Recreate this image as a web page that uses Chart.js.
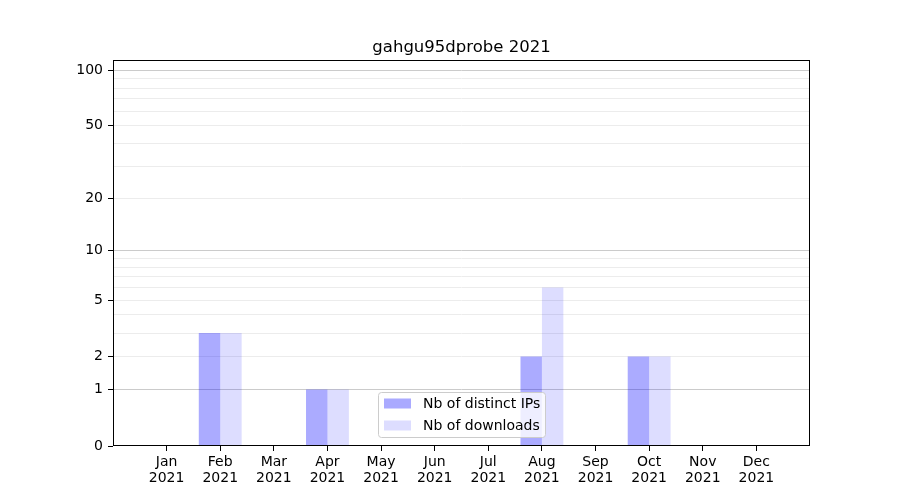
<!DOCTYPE html>
<html>
<head>
<meta charset="utf-8">
<script src="https://cdn.jsdelivr.net/npm/chart.js@4"></script>
<style>
html,body{margin:0;padding:0;background:#fff;}
#wrap{width:900px;height:500px;}
</style>
</head>
<body>
<div id="wrap"><canvas id="c" width="900" height="500"></canvas></div>
<script>
const months = ['Jan','Feb','Mar','Apr','May','Jun','Jul','Aug','Sep','Oct','Nov','Dec'];
const yearLabel = '2021';
const ips = [0,3,0,1,0,0,0,2,0,2,0,0];
const downloads = [0,3,0,1,0,0,0,6,0,2,0,0];
const yTickLabels = [0,1,2,5,10,20,50,100];
const yMajorGrid = [1,10,100];
const yMinorGrid = [3,4,6,7,8,9,30,40,60,70,80,90];
const yTop = 113.3;
const titleText = 'gahgu95dprobe 2021';
const seriesNames = ['Nb of distinct IPs','Nb of downloads'];
const colors = ['rgba(0,0,255,0.33)','rgba(0,0,255,0.135)'];
const legendSwatch = ['#aaaaff','#ddddff'];

const tf = v => Math.log10(v + 1);
const inv = t => Math.round(Math.pow(10, t) - 1);

const tickKinds = {};
yTickLabels.forEach(v => tickKinds[v] = 'label');
yMinorGrid.forEach(v => tickKinds[v] = 'minor');
const allY = Object.keys(tickKinds).map(Number).sort((a,b)=>a-b);

const FONT = "'DejaVu Sans', sans-serif";

const frame = {
  id: 'frame',
  afterDatasetsDraw(chart) {
    const {ctx, chartArea: a} = chart;
    ctx.save();
    ctx.strokeStyle = '#000';
    ctx.lineWidth = 1;
    const l = Math.round(a.left) + 0.5, t = Math.round(a.top) + 0.5;
    const r = Math.round(a.right) - 0.5, b = Math.round(a.bottom) - 0.5;
    ctx.strokeRect(l, t, r - l, b - t);
    ctx.restore();
  },
  afterDraw(chart) {
    const ctx = chart.ctx;
    const x = 378.5, y = 392.5, w = 167, h = 45, rad = 3;
    ctx.save();
    ctx.beginPath();
    ctx.roundRect(x, y, w, h, rad);
    ctx.fillStyle = 'rgba(255,255,255,0.8)';
    ctx.fill();
    ctx.strokeStyle = '#cccccc';
    ctx.lineWidth = 1;
    ctx.stroke();
    ctx.font = '14px ' + FONT;
    ctx.textBaseline = 'middle';
    ctx.fillStyle = '#000';
    seriesNames.forEach((name, i) => {
      const cy = 403.5 + i * 22;
      ctx.fillStyle = legendSwatch[i];
      ctx.fillRect(384, cy - 5, 27, 10);
      ctx.fillStyle = '#000';
      ctx.fillText(name, 423, cy + 0.5);
    });
    ctx.restore();
  }
};

new Chart(document.getElementById('c'), {
  type: 'bar',
  data: {
    datasets: [
      { label: seriesNames[0], data: ips.map((v,i)=>({x:i, y:tf(v)})), backgroundColor: colors[0], borderWidth: 0 },
      { label: seriesNames[1], data: downloads.map((v,i)=>({x:i, y:tf(v)})), backgroundColor: colors[1], borderWidth: 0 }
    ]
  },
  options: {
    responsive: false,
    animation: false,
    devicePixelRatio: 1,
    layout: { padding: { left: 0, right: 90, top: 0, bottom: 0 } },
    datasets: { bar: { categoryPercentage: 0.8, barPercentage: 1.0, grouped: true } },
    plugins: {
      legend: { display: false },
      tooltip: { enabled: false },
      title: {
        display: true, text: titleText, fullSize: false,
        color: '#000', font: { family: FONT, size: 16.5, weight: 'normal', lineHeight: 1.2 },
        padding: { top: 37.5, bottom: 2.7 }
      }
    },
    scales: {
      x: {
        type: 'linear', min: -1, max: 12, offset: false,
        afterBuildTicks: s => { s.ticks = months.map((m,i)=>({value:i})); },
        afterFit: s => { s.height = 54; },
        grid: { offset: false, drawOnChartArea: false, drawTicks: true, tickLength: 5, tickColor: '#000', tickWidth: 1 },
        border: { display: false },
        ticks: {
          autoSkip: false, maxRotation: 0, padding: 3, color: '#000',
          font: { family: FONT, size: 14, lineHeight: 1.15 },
          callback: v => (Number.isInteger(v) && v >= 0 && v < months.length) ? [months[v], yearLabel] : ''
        }
      },
      y: {
        type: 'linear', min: 0, max: tf(yTop),
        afterBuildTicks: s => { s.ticks = allY.map(v => ({value: tf(v)})); },
        afterFit: s => { s.width = 113; },
        grid: {
          drawTicks: true, tickLength: 5, tickWidth: 1,
          color: c => {
            const v = inv(c.tick.value);
            if (v === 0) return 'rgba(0,0,0,0)';
            return yMajorGrid.includes(v) ? '#cbcbcb' : '#ececec';
          },
          tickColor: c => tickKinds[inv(c.tick.value)] === 'label' ? '#000' : 'rgba(0,0,0,0)'
        },
        border: { display: false },
        ticks: {
          autoSkip: false, padding: 5, color: '#000',
          font: { family: FONT, size: 14 },
          callback: t => { const v = inv(t); return tickKinds[v] === 'label' ? String(v) : ''; }
        }
      }
    }
  },
  plugins: [frame]
});
</script>
</body>
</html>
